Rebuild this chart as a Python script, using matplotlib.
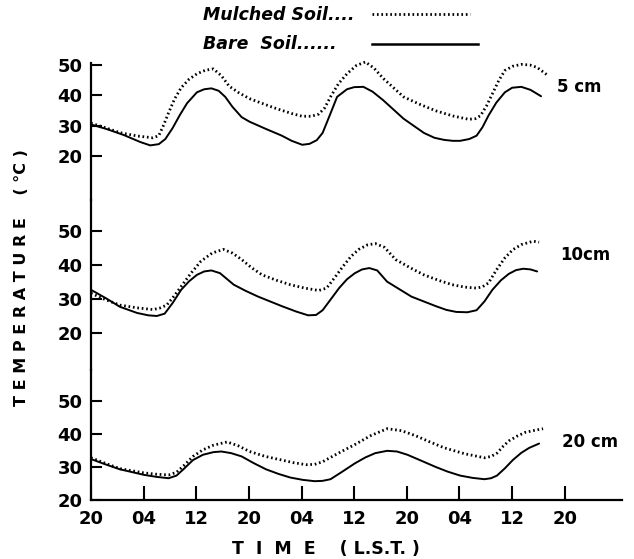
import matplotlib
matplotlib.use("Agg")
import matplotlib.pyplot as plt
from matplotlib.lines import Line2D

# ---------------- data (hours since 20 L.S.T., temperature in deg C) ----------------
tick_hours = [0, 8, 16, 24, 32, 40, 48, 56, 64, 72]
tick_labels = ['20', '04', '12', '20', '04', '12', '20', '04', '12', '20']
y_ticks = [20, 30, 40, 50]
depth_labels = ['5 cm', '10cm', '20 cm']

# 5 cm
h_bare5 = [0, 2.5, 5.0, 7.5, 9.0, 10.3, 11.3, 12.4, 13.5, 14.6, 16.1, 17.2, 18.3, 19.4, 20.4,
           21.5, 22.9, 24.1, 26.5, 29.0, 30.5, 32.1, 33.2, 34.3, 35.2, 36.3, 37.4, 38.9, 40.0,
           41.4, 42.8, 44.4, 47.5, 50.6, 52.2, 53.7, 55.0, 56.1, 57.5, 58.6, 59.5, 60.4, 61.6,
           62.9, 64.0, 65.4, 66.8, 68.4]
t_bare5 = [30.4, 28.8, 26.9, 24.6, 23.5, 23.9, 25.6, 29.2, 33.5, 37.4, 41.0, 42.0, 42.3, 41.5, 39.5,
           36.2, 32.8, 31.3, 29.0, 26.7, 25.0, 23.7, 24.0, 25.2, 27.6, 33.5, 39.5, 42.0, 42.7,
           42.8, 41.2, 38.4, 32.3, 27.6, 26.0, 25.3, 25.0, 25.0, 25.6, 26.7, 29.5, 33.3, 37.6,
           41.0, 42.5, 42.8, 41.8, 39.7]
h_mulch5 = [0, 2.2, 4.4, 7.0, 9.4, 10.3, 11.0, 11.8, 12.7, 13.7, 14.9, 16.1, 17.4, 18.6, 19.8,
            21.0, 22.5, 24.1, 27.8, 30.5, 32.1, 33.5, 34.6, 35.5, 36.4, 37.6, 38.9, 40.3, 41.7,
            43.0, 44.4, 47.5, 50.0, 52.4, 55.0, 57.4, 58.4, 59.2, 60.1, 61.0, 62.0, 62.9, 64.1,
            65.4, 66.7, 67.8, 69.4]
t_mulch5 = [30.8, 29.3, 27.7, 26.6, 26.0, 26.7, 30.0, 34.3, 38.8, 42.5, 45.3, 47.1, 48.3, 48.7, 46.5,
            43.0, 40.8, 38.9, 35.9, 34.0, 33.1, 33.1, 33.8, 35.8, 39.5, 43.8, 47.1, 49.8, 51.0,
            49.0, 45.6, 39.5, 37.0, 34.9, 33.2, 32.1, 32.3, 33.3, 36.5, 40.5, 45.0, 48.2, 49.6,
            50.2, 50.0, 49.2, 46.6]

# 10 cm
h_bare10 = [0, 2.2, 4.4, 7.0, 8.7, 10.0, 11.2, 12.4, 13.7, 14.9, 16.1, 17.2, 18.3, 19.6, 21.7,
            23.5, 25.4, 29.0, 31.2, 33.0, 34.2, 35.2, 36.4, 37.7, 38.9, 40.1, 41.2, 42.3, 43.5,
            45.0, 48.7, 52.4, 54.0, 55.5, 57.2, 58.6, 59.8, 61.0, 62.3, 63.5, 64.6, 65.7, 66.8,
            67.8]
t_bare10 = [32.7, 30.3, 27.7, 25.9, 25.2, 25.0, 25.7, 28.8, 32.7, 35.2, 37.1, 38.1, 38.4, 37.6, 34.2,
            32.4, 30.7, 27.9, 26.3, 25.2, 25.3, 26.7, 29.8, 33.2, 35.8, 37.6, 38.7, 39.1, 38.4,
            35.1, 30.7, 27.9, 26.8, 26.2, 26.1, 26.7, 29.3, 32.7, 35.5, 37.4, 38.5, 38.9, 38.7,
            38.1]
h_mulch10 = [0, 2.2, 4.4, 7.0, 9.4, 10.4, 11.5, 12.6, 13.7, 15.2, 16.7, 18.4, 20.1, 21.5, 22.9,
             24.4, 26.0, 28.2, 30.3, 32.5, 34.6, 35.8, 37.0, 38.3, 39.5, 40.7, 42.0, 43.2, 44.6,
             46.3, 48.5, 50.6, 52.8, 54.9, 56.8, 58.6, 59.5, 60.4, 61.6, 62.9, 64.1, 65.4, 67.2,
             68.1]
t_mulch10 = [31.7, 29.8, 28.2, 27.4, 26.9, 27.3, 28.2, 30.8, 33.7, 37.6, 41.1, 43.5, 44.6, 43.5, 41.6,
             39.2, 37.1, 35.5, 34.2, 33.2, 32.5, 33.2, 36.2, 39.6, 42.5, 44.6, 45.9, 46.3, 45.2,
             41.6, 39.2, 37.1, 35.5, 34.2, 33.5, 33.2, 33.6, 34.7, 38.5, 42.1, 44.5, 46.0, 47.0,
             46.7]

# 20 cm
h_bare20 = [0, 2.2, 4.4, 8.1, 10.0, 11.8, 13.0, 14.2, 15.5, 17.0, 18.6, 19.8, 21.3, 22.9, 24.7,
            26.6, 28.5, 30.3, 32.2, 34.0, 35.2, 36.4, 38.2, 40.1, 41.7, 43.2, 45.0, 46.5, 48.1,
            50.2, 52.4, 54.2, 56.1, 58.0, 59.8, 60.8, 61.7, 62.9, 64.1, 65.4, 66.6, 68.1]
t_bare20 = [32.4, 30.8, 29.3, 27.6, 27.0, 26.6, 27.4, 29.6, 32.1, 33.7, 34.5, 34.7, 34.2, 33.2, 31.2,
            29.3, 27.9, 26.8, 26.1, 25.7, 25.8, 26.3, 28.6, 31.1, 32.9, 34.2, 34.9, 34.7, 33.7,
            31.9, 30.0, 28.6, 27.4, 26.7, 26.3, 26.6, 27.4, 29.6, 32.1, 34.3, 35.8, 37.1]
h_mulch20 = [0, 2.2, 4.4, 8.1, 10.0, 11.8, 13.0, 14.2, 15.5, 17.0, 18.6, 20.7, 22.4, 24.1, 26.5,
             29.0, 30.8, 32.7, 34.0, 35.2, 37.6, 40.1, 42.5, 45.0, 47.2, 49.3, 51.5, 53.7, 56.8,
             59.8, 60.8, 61.7, 62.6, 63.5, 64.8, 66.0, 67.4, 68.7]
t_mulch20 = [32.8, 31.1, 29.5, 28.2, 27.8, 27.6, 28.4, 30.6, 33.2, 35.2, 36.6, 37.6, 36.4, 34.7, 33.2,
             32.1, 31.3, 30.7, 30.8, 31.6, 34.2, 36.8, 39.5, 41.6, 41.0, 39.5, 37.6, 35.8, 34.0,
             32.8, 33.2, 34.2, 36.2, 37.9, 39.4, 40.5, 41.1, 41.6]

# ---------------- figure ----------------
W, H = 634, 559
fig = plt.figure(figsize=(W / 100, H / 100), dpi=100)

def fx(px):
    return px / W

def fy(py):
    return 1 - py / H

left, right = 91, 622
xmax = (right - left) / 6.58

# (top px, bottom px, ylim)
panels = [
    (55, 200, (20 - 44 / 3.033, 50 + 10 / 3.033)),
    (200, 370, (20 - 37 / 3.4, 50 + 31 / 3.4)),
    (370, 500, (20, 20 + 130 / 3.3)),
]
series = [
    (h_bare5, t_bare5, h_mulch5, t_mulch5),
    (h_bare10, t_bare10, h_mulch10, t_mulch10),
    (h_bare20, t_bare20, h_mulch20, t_mulch20),
]
label_pos = [(557, 87), (560, 255), (562, 442)]

dotted = (0, (0.6, 1.0))
tickfont = dict(fontsize=13, fontweight='bold')

for i, ((top, bot, ylim), (hb, tb, hm, tm)) in enumerate(zip(panels, series)):
    ax = fig.add_axes([fx(left), fy(bot), fx(right) - fx(left), (bot - top) / H])
    ax.set_xlim(0, xmax)
    ax.set_ylim(*ylim)
    ax.patch.set_alpha(0)
    ax.plot(hb, tb, color='black', lw=1.4, solid_capstyle='round',
            solid_joinstyle='round', clip_on=False)
    ax.plot(hm, tm, color='black', lw=2.0, linestyle=dotted, clip_on=False)
    for s in ['top', 'right']:
        ax.spines[s].set_visible(False)
    ax.spines['left'].set_linewidth(1.6)
    if i == 0:
        ax.spines['left'].set_bounds(ylim[0], 50.7)
    ax.set_yticks(y_ticks)
    ax.set_yticklabels([str(v) for v in y_ticks], **tickfont)
    ax.tick_params(axis='y', direction='in', length=8, width=1.5, pad=6)
    if i < 2:
        ax.spines['bottom'].set_visible(False)
        ax.set_xticks([])
    else:
        ax.spines['bottom'].set_linewidth(1.6)
        ax.set_xticks(tick_hours)
        ax.set_xticklabels(tick_labels, **tickfont)
        ax.tick_params(axis='x', direction='in', length=10, width=1.5, pad=7)
    lx, ly = label_pos[i]
    fig.text(fx(lx), fy(ly), depth_labels[i], fontsize=12, fontweight='bold',
             ha='left', va='center')

# axis titles
fig.text(fx(326), fy(549), 'T  I  M  E    ( L.S.T. )', fontsize=12.5, fontweight='bold',
         ha='center', va='center')
fig.text(fx(22), fy(278), 'T E M P E R A T U R E    ( °C )', fontsize=11.5, fontweight='bold',
         ha='center', va='center', rotation=90)

# legend (hand drawn style, top centre)
fig.text(fx(203), fy(15), 'Mulched Soil....', fontsize=12.5, fontweight='bold',
         style='italic', ha='left', va='center')
fig.text(fx(203), fy(44), 'Bare  Soil......', fontsize=12.5, fontweight='bold',
         style='italic', ha='left', va='center')
fig.add_artist(Line2D([fx(372), fx(470)], [fy(14), fy(14)], color='black', lw=2.0,
                      linestyle=dotted))
fig.add_artist(Line2D([fx(372), fx(478)], [fy(44), fy(44)], color='black', lw=1.8))

fig.savefig('out.png', dpi=100)
